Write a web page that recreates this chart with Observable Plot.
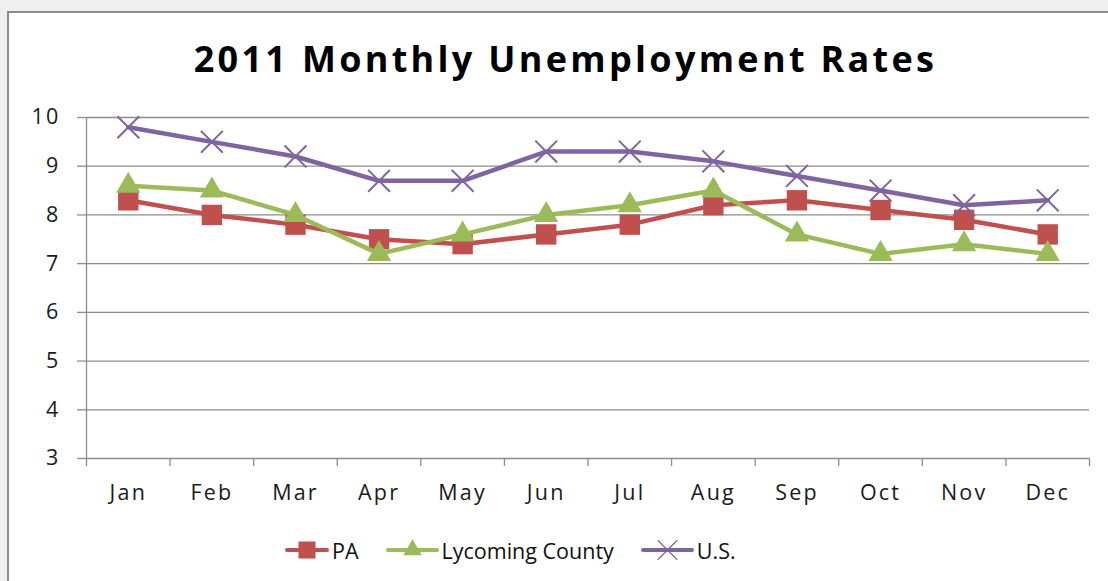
<!DOCTYPE html>
<html><head><meta charset="utf-8">
<script src="https://cdn.jsdelivr.net/npm/d3@7"></script>
<script src="https://cdn.jsdelivr.net/npm/@observablehq/plot@0.6"></script>
<style>
html,body{margin:0;padding:0;width:1108px;height:581px;overflow:hidden;background:#efefef;font-family:"Open Sans",sans-serif;}
#frame{position:absolute;left:7px;top:11px;width:1200px;height:700px;border:2px solid #8c8c8c;background:#fff;}
#title{position:absolute;left:0;top:41px;width:1131px;text-align:center;font-weight:700;font-size:36px;line-height:36px;color:#000;letter-spacing:3.3px;white-space:nowrap;}
#chart{position:absolute;left:0;top:100px;}
#legend{position:absolute;left:285px;top:538px;display:flex;align-items:center;font-size:21.5px;line-height:21px;color:#111;white-space:nowrap;}
.item{display:flex;align-items:center;margin-right:27px;}
.item svg{margin-right:3px;}
</style>
</head><body>
<div id="frame"></div>
<div id="title">2011 Monthly Unemployment Rates</div>
<div id="chart"></div>
<div id="legend"></div>
<script>
const months = ["Jan","Feb","Mar","Apr","May","Jun","Jul","Aug","Sep","Oct","Nov","Dec"];
const pa       = [8.3, 8.0, 7.8, 7.5, 7.4, 7.6, 7.8, 8.2, 8.3, 8.1, 7.9, 7.6];
const lycoming = [8.6, 8.5, 8.0, 7.2, 7.6, 8.0, 8.2, 8.5, 7.6, 7.2, 7.4, 7.2];
const us       = [9.8, 9.5, 9.2, 8.7, 8.7, 9.3, 9.3, 9.1, 8.8, 8.5, 8.2, 8.3];
const yTicks = [3, 4, 5, 6, 7, 8, 9, 10];
const seriesNames = ["PA", "Lycoming County", "U.S."];
const seriesValues = [pa, lycoming, us];
const colors = ["#C0504D", "#9BBB59", "#8064A2"];
const symbols = ["square", "triangle", "times"];

const rows = vals => months.map((m, i) => ({i, m, v: vals[i]}));
const idx = d3.range(months.length);
const bounds = d3.range(months.length + 1).map(k => k - 0.5);
const grid = "#8c8c8c";

const seriesMarks = seriesValues.flatMap((vals, s) => {
  const data = rows(vals);
  const line = Plot.line(data, {x: "i", y: "v", stroke: colors[s], strokeWidth: 4.5});
  let dot;
  if (symbols[s] === "square") dot = Plot.dot(data, {x: "i", y: "v", symbol: "square", r: 11.5, fill: colors[s], stroke: "none"});
  else if (symbols[s] === "triangle") dot = Plot.dot(data, {x: "i", y: "v", symbol: "triangle", r: 9, fill: colors[s], stroke: "none"});
  else dot = Plot.dot(data, {x: "i", y: "v", symbol: "times", r: 10, fill: "none", stroke: colors[s], strokeWidth: 2});
  return [line, dot];
});

const chart = Plot.plot({
  width: 1108, height: 420,
  marginLeft: 86, marginRight: 19, marginTop: 17, marginBottom: 62,
  x: {type: "linear", domain: [-0.5, months.length - 0.5]},
  y: {domain: [3, 10]},
  style: {fontFamily: "Open Sans", fontSize: "21px", color: "#1a1a1a", background: "transparent", letterSpacing: "2.2px"},
  marks: [
    Plot.gridY(yTicks, {stroke: grid, strokeOpacity: 1, strokeWidth: 1.3}),
    Plot.ruleX([-0.5], {y1: 3, y2: 10, stroke: grid, strokeWidth: 1.3}),
    Plot.axisY(yTicks, {tickSize: 9, tickPadding: 17, stroke: grid, strokeWidth: 1.3, fontSize: 21.5, label: null}),
    Plot.axisX(bounds, {tickSize: 8, tickFormat: () => "", stroke: grid, strokeWidth: 1.3, label: null}),
    Plot.axisX(idx, {tickSize: 0, tickPadding: 26, tickFormat: i => months[i], fontSize: 21.5, label: null}),
    ...seriesMarks
  ]
});
document.getElementById("chart").appendChild(chart);

// legend
const legend = d3.select("#legend");
const legendSym = {
  square: d3.symbol(d3.symbolSquare, 290)(),
  triangle: d3.symbol(d3.symbolTriangle, 150)(),
  times: d3.symbol(d3.symbolTimes, 250)()
};
seriesNames.forEach((name, s) => {
  const it = legend.append("div").attr("class", "item");
  const w = s === 0 ? 44 : 53;
  const svg = it.append("svg").attr("width", w).attr("height", 24);
  svg.append("line").attr("x1", 2).attr("x2", w - 2).attr("y1", 12).attr("y2", 12)
    .attr("stroke", colors[s]).attr("stroke-width", 4).attr("stroke-linecap", "round");
  const p = svg.append("path").attr("d", legendSym[symbols[s]]).attr("transform", `translate(${w / 2},12)`);
  if (symbols[s] === "times") p.attr("fill", "none").attr("stroke", colors[s]).attr("stroke-width", 1.2);
  else p.attr("fill", colors[s]);
  it.append("span").text(name);
});
</script>
</body></html>
